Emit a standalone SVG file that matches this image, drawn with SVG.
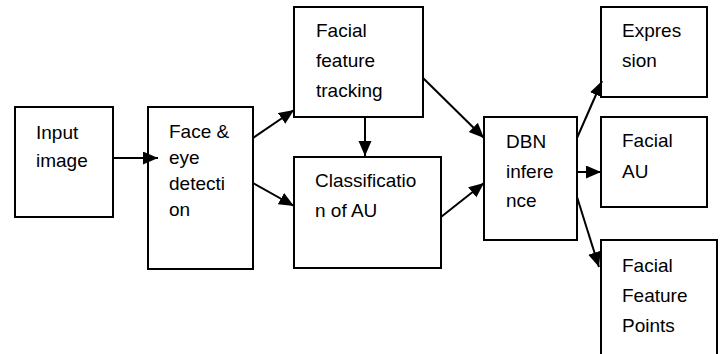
<svg xmlns="http://www.w3.org/2000/svg" width="721" height="354" viewBox="0 0 721 354">
<style>
.box{fill:#fff;stroke:#000;stroke-width:2}
.t{font-family:"Liberation Sans",Arial,sans-serif;font-size:19px;fill:#000}
.c{stroke:#000;stroke-width:2;fill:none;marker-end:url(#ah)}
</style>
<defs>
<marker id="ah" markerUnits="userSpaceOnUse" markerWidth="16" markerHeight="14" refX="15" refY="6.5" orient="auto" viewBox="0 0 16 14">
<path d="M0,0 L15,6.5 L0,13 z" fill="#000"/>
</marker>
</defs>
<rect width="721" height="354" fill="#fff"/>
<g id="input">
<rect class="box" x="15" y="107" width="98" height="110"/>
<text class="t" x="36" y="139">Input</text>
<text class="t" x="36" y="167">image</text>
</g>
<g id="face">
<rect class="box" x="148" y="107" width="105" height="162"/>
<text class="t" x="169" y="138">Face &amp;</text>
<text class="t" x="169" y="164">eye</text>
<text class="t" x="169" y="190">detecti</text>
<text class="t" x="169" y="216">on</text>
</g>
<g id="tracking">
<rect class="box" x="294" y="7" width="129" height="110"/>
<text class="t" x="316" y="37">Facial</text>
<text class="t" x="316" y="67">feature</text>
<text class="t" x="316" y="97">tracking</text>
</g>
<g id="classification">
<rect class="box" x="294" y="157" width="147" height="111"/>
<text class="t" x="315" y="187">Classificatio</text>
<text class="t" x="315" y="217">n of AU</text>
</g>
<g id="dbn">
<rect class="box" x="484" y="117" width="93" height="123"/>
<text class="t" x="506" y="148">DBN</text>
<text class="t" x="506" y="178">infere</text>
<text class="t" x="506" y="207">nce</text>
</g>
<g id="expression">
<rect class="box" x="601" y="7" width="106" height="90"/>
<text class="t" x="622" y="37">Expres</text>
<text class="t" x="622" y="67">sion</text>
</g>
<g id="facialau">
<rect class="box" x="601" y="117" width="106" height="90"/>
<text class="t" x="622" y="147">Facial</text>
<text class="t" x="622" y="178">AU</text>
</g>
<g id="points">
<rect class="box" x="601" y="240" width="116" height="120"/>
<text class="t" x="622" y="272">Facial</text>
<text class="t" x="622" y="302">Feature</text>
<text class="t" x="622" y="332">Points</text>
</g>
<g id="connectors">
<line class="c" x1="113" y1="158" x2="158" y2="158"/>
<line class="c" x1="253" y1="138" x2="294" y2="110"/>
<line class="c" x1="253" y1="183" x2="294" y2="206"/>
<line class="c" x1="365" y1="117" x2="365" y2="156"/>
<line class="c" x1="423" y1="78" x2="484" y2="138"/>
<line class="c" x1="441" y1="217" x2="484" y2="183"/>
<line class="c" x1="577" y1="138" x2="602" y2="81"/>
<line class="c" x1="577" y1="172" x2="601" y2="172"/>
<line class="c" x1="577" y1="197" x2="599" y2="267"/>
</g>
</svg>
